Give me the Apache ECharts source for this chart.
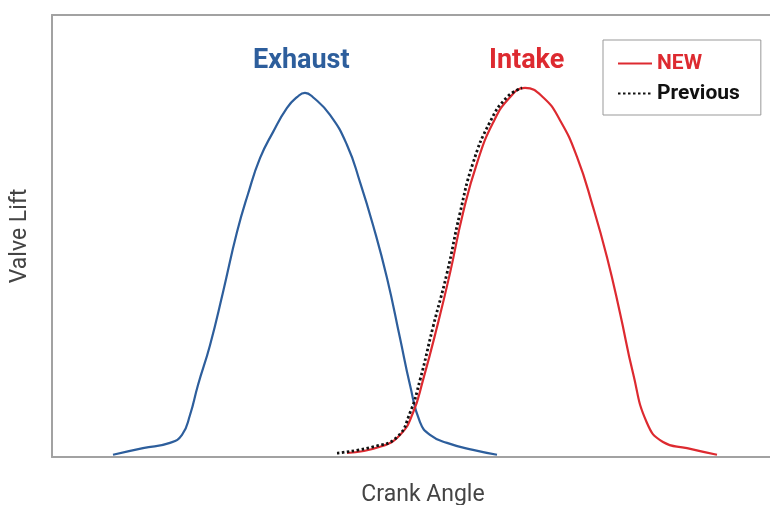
<!DOCTYPE html>
<html><head><meta charset="utf-8">
<script src="https://cdn.jsdelivr.net/npm/echarts@6/dist/echarts.min.js"></script>
<style>html,body{margin:0;padding:0;background:#fff}#c{width:770px;height:505px}</style>
</head><body><div id="c"></div>
<script>
// Crank angle (arbitrary units) and valve lift (% of axis height)
const exhaustX = [30.5,45.5,59,65,69,73,79,85.5,92.5,98,104,110.5,117.5,122.5,126.5,130.5,139,147.5,154,160.5,167.5,174,179,184,189,197.5,210.5,222.5];
const exhaustY = [0.5,2.0,3.2,5.0,9.5,16.3,25.3,37.3,50.9,59.5,67.6,73.5,79.0,81.4,82.4,81.4,77.4,70.6,62.2,52.5,40.5,26.9,16.3,7.9,5.0,3.2,1.6,0.5];
const intakeNewX = [147.5,164,174,180.5,185.5,192.5,199,205.5,212.5,220.5,229,236.5,245.5,254,262.5,270.5,277.5,284,290.5,297.5,305.5,317.5,332.5];
const intakeNewY = [0.9,2.3,5.0,10.0,17.4,29.4,41.6,55.2,66.5,75.6,81.4,83.5,81.4,76.2,67.9,56.6,45.2,32.6,19.0,7.7,3.4,2.0,0.5];
const intakePrevX = [142.5,160.5,172.5,179,184,190.5,197.5,204,210.5,219,227.5,235];
const intakePrevY = [0.9,2.3,4.5,10.0,17.4,29.4,41.6,55.2,66.5,75.8,81.4,83.5];
const labels = {exhaust:'Exhaust', intake:'Intake', xName:'Crank Angle', yName:'Valve Lift', s1:'NEW', s2:'Previous'};

const zip = (xs, ys) => xs.map((x, i) => [x, ys[i]]);
const FONT = 'Roboto,"Liberation Sans",sans-serif';
const BLUE = '#2d5e9c', RED = '#dd2a30', GRAY = '#a2a2a2';

const chart = echarts.init(document.getElementById('c'));
const axisBase = {type:'value', axisTick:{show:false}, axisLabel:{show:false}, splitLine:{show:false},
  axisLine:{show:true, lineStyle:{color:GRAY, width:2}}};
chart.setOption({
  animation:false,
  grid:{left:52, top:15, right:0, bottom:48, outerBoundsMode:'none', containLabel:false},
  xAxis:[
    Object.assign({}, axisBase, {min:0, max:359, name:labels.xName, nameLocation:'middle', nameGap:27,
      nameTextStyle:{color:'#444', fontSize:23, fontFamily:FONT, padding:[0,0,0,24]}}),
    Object.assign({}, axisBase, {min:0, max:359, position:'top'})
  ],
  yAxis:Object.assign({}, axisBase, {min:0, max:100, name:labels.yName, nameLocation:'middle', nameGap:20,
      nameTextStyle:{color:'#444', fontSize:23, fontFamily:FONT}}),
  legend:{orient:'vertical', left:603, top:40, itemWidth:34, itemGap:9, padding:[13,21,11,14],
    borderColor:'#999', borderWidth:1, backgroundColor:'#fff',
    itemStyle:{opacity:0},
    textStyle:{fontSize:21, fontWeight:'bold', fontFamily:FONT},
    data:[{name:labels.s1, textStyle:{color:RED}}, {name:labels.s2, textStyle:{color:'#111'}}]},
  graphic:[
    {type:'text', left:253, top:48, style:{text:labels.exhaust, fill:BLUE, font:'bold 27px '+FONT}},
    {type:'text', left:489, top:48, style:{text:labels.intake, fill:RED, font:'bold 27px '+FONT}}
  ],
  series:[
    {name:'Exhaust', type:'line', data:zip(exhaustX, exhaustY), smooth:0.5, symbol:'none',
      lineStyle:{color:BLUE, width:2.2}, itemStyle:{color:BLUE}, z:2},
    {name:labels.s1, type:'line', data:zip(intakeNewX, intakeNewY), smooth:0.5, symbol:'none',
      lineStyle:{color:RED, width:2.2}, itemStyle:{color:RED}, z:3},
    {name:labels.s2, type:'line', data:zip(intakePrevX, intakePrevY), smooth:0.5, symbol:'none',
      lineStyle:{color:'#111', width:2.8, type:[2.5,2.5]}, itemStyle:{color:'#111'}, z:4}
  ]
});
</script></body></html>
